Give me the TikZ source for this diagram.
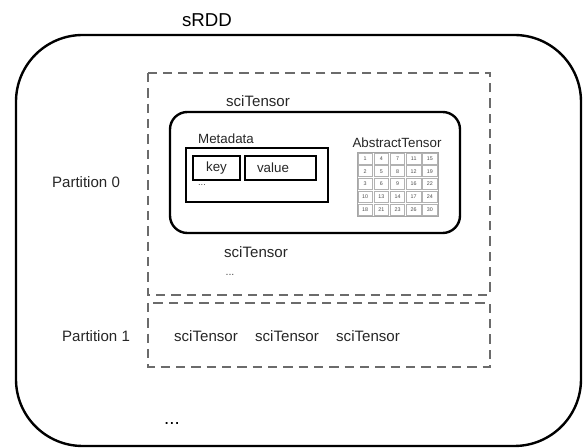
\documentclass[tikz,border=0pt]{standalone}
\usepackage{fontspec}
\setmainfont{Liberation Sans}
\begin{document}
\begin{tikzpicture}[x=0.75pt,y=-0.75pt,
  solidbox/.style={draw=black,line width=1.8pt},
  dashbox/.style={draw=black!58,line width=2pt,dash pattern=on 7pt off 4.5pt},
  lbl/.style={inner sep=0pt,text=black!85,font=\fontsize{11.3}{13}\selectfont},
  smalllbl/.style={inner sep=0pt,text=black!85,font=\fontsize{10}{12}\selectfont},
  cell/.style={draw=black!30,line width=0.4pt,minimum width=14.5*0.75pt,minimum height=11*0.75pt,inner sep=0pt,font=\fontsize{4}{5}\selectfont,text=black!70}]
\useasboundingbox (0,0) rectangle (583,448);
% outer sRDD
\draw[solidbox,rounded corners=50pt] (16,35) rectangle (581,446);
\node[inner sep=0pt,font=\fontsize{14}{16}\selectfont] (srdd) at (207,20) {sRDD};
% partitions
\draw[dashbox] (148,73) rectangle (490,295);
\draw[dashbox] (148,303) rectangle (490,367);
\node[lbl] (p0) at (86,182) {Partition 0};
\node[lbl] (p1) at (96,336) {Partition 1};
% sciTensor box
\draw[solidbox,rounded corners=13pt] (170,112) rectangle (460,233);
\node[lbl] (st0) at (258,101) {sciTensor};
% metadata
\node[smalllbl] (meta) at (226,139) {Metadata};
\draw[solidbox] (186,148) rectangle (328,202);
\draw[solidbox] (193,156) rectangle (240,180);
\draw[solidbox] (245,156) rectangle (316,180);
\node[smalllbl] (key) at (216.5,168) {key};
\node[smalllbl] (val) at (273,168) {value};
\node[inner sep=0pt,font=\fontsize{7}{8}\selectfont,text=black!70] (mdots) at (202,185) {...};
% abstract tensor
\node[smalllbl] (abs) at (397,143) {AbstractTensor};
\def\gx{357}\def\gy{152}\def\cw{16.2}\def\ch{12.8}
\draw[draw=black!35,line width=0.5pt] (\gx,\gy) rectangle (\gx+5*\cw,\gy+5*\ch);
\foreach \r/\row in {0/{1,4,7,11,15},1/{2,5,8,12,19},2/{3,6,9,16,22},3/{10,13,14,17,24},4/{18,21,23,26,30}}{
  \foreach \v [count=\c from 0] in \row {
    \node[cell] (g\r\c) at (\gx+\c*\cw+\cw/2,\gy+\r*\ch+\ch/2) {\v};
  }
}
% below
\node[lbl] (st1) at (256,252) {sciTensor};
\node[inner sep=0pt,font=\fontsize{8}{9}\selectfont,text=black!70] (pdots) at (230,275) {...};
\node[lbl] (st2) at (206,336) {sciTensor};
\node[lbl] (st3) at (287,336) {sciTensor};
\node[lbl] (st4) at (368,336) {sciTensor};
\node[inner sep=0pt,font=\fontsize{14}{16}\selectfont] (bdots) at (172,424) {...};
\end{tikzpicture}
\end{document}
